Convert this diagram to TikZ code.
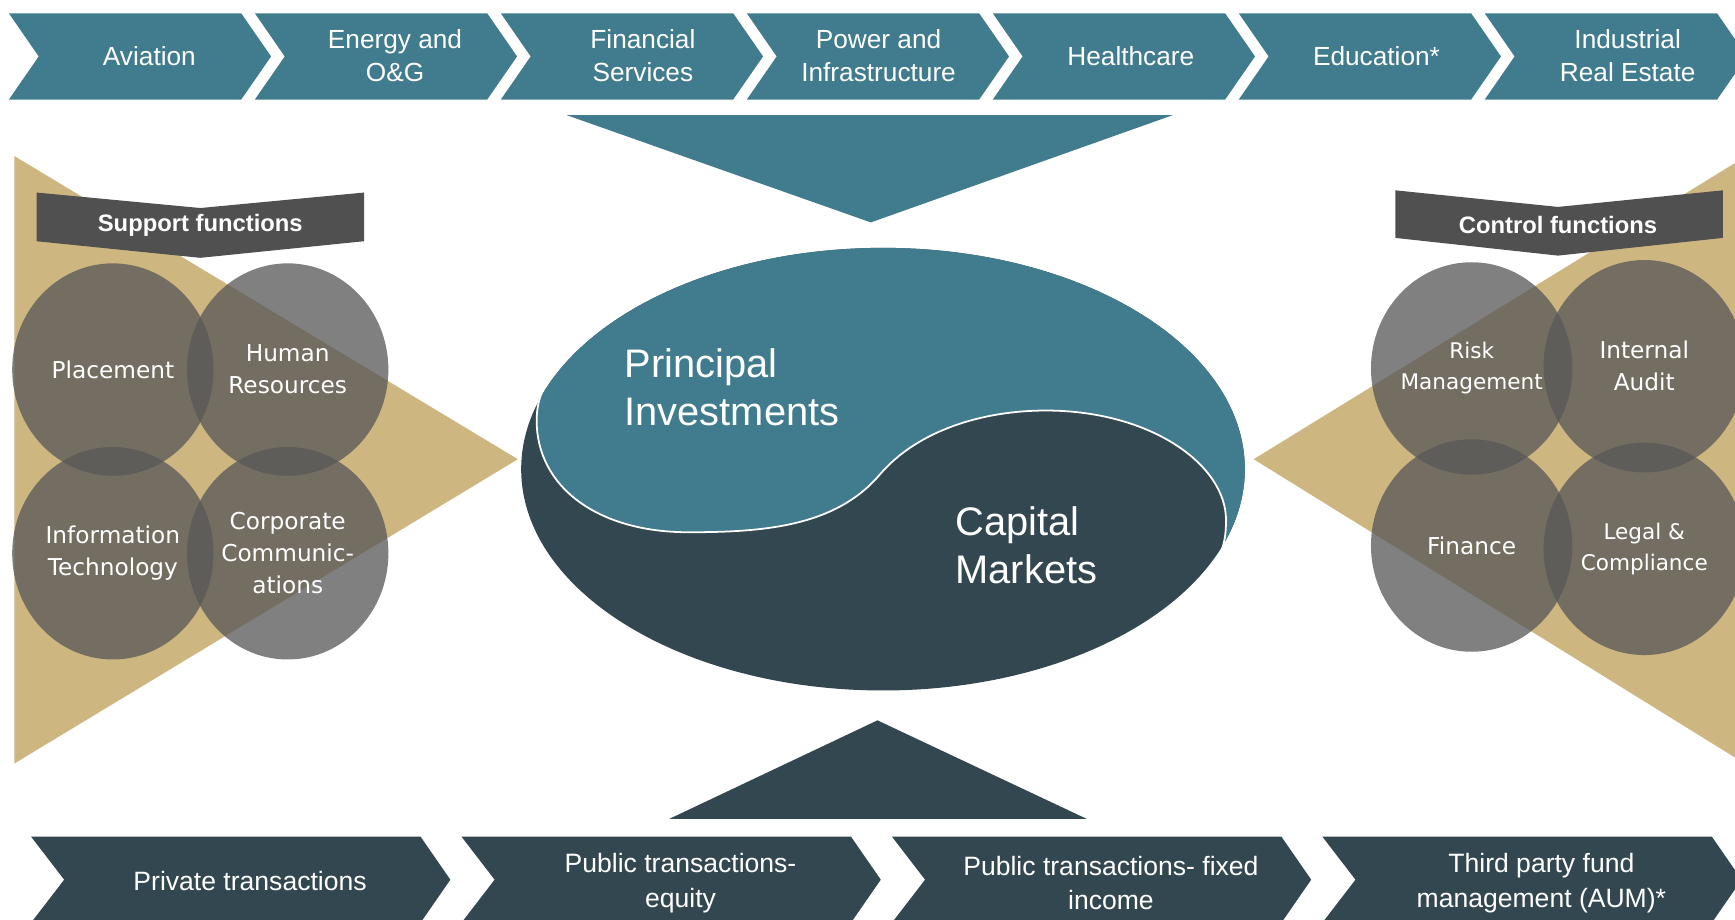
\documentclass[tikz,border=0pt]{standalone}
\usepackage{fontspec}
\setmainfont{Liberation Sans}
\newfontfamily\dvs{DejaVu Sans}
\usetikzlibrary{shapes.geometric}
\definecolor{teal1}{RGB}{65,124,142}
\definecolor{slate}{RGB}{51,71,80}
\definecolor{tan1}{RGB}{205,182,128}
\definecolor{bangrey}{RGB}{80,80,80}
\definecolor{circgrey}{RGB}{88,88,88}
\begin{document}
\begin{tikzpicture}[x=1pt,y=-1pt,
  toptext/.style={text=white, align=center, font=\fontsize{23.7}{30}\selectfont},
  bottext/.style={text=white, align=center, font=\fontsize{24}{31}\selectfont},
  circ/.style={ellipse, minimum width=182, minimum height=192, inner sep=0pt, fill=circgrey, fill opacity=.76, text opacity=1, text=white, align=center, font=\dvs\fontsize{21}{29}\selectfont},
  circsmall/.style={font=\dvs\fontsize{19.5}{28}\selectfont},
  bantext/.style={text=white, font=\bfseries\fontsize{21.5}{24}\selectfont},
  bigtext/.style={text=white, align=left, anchor=west, font=\fontsize{36}{43}\selectfont},
  topchevron/.style={fill=teal1},
  botchevron/.style={fill=slate},
  banner/.style={fill=bangrey},
  wedge/.style={fill=tan1}
]
\useasboundingbox (0,0) rectangle (1568,831);
\clip (0,0) rectangle (1568,831);

% tan wedges
\fill[wedge] (13,141) -- (468,415) -- (13,690) -- cycle;
\fill[wedge] (1133,415) -- (1575,143) -- (1575,689) -- cycle;

% banners
\fill[banner] (33,174) -- (181,188) -- (329,174) -- (329,218) -- (181,233) -- (33,218) -- cycle;
\node[bantext] (sup) at (181,204) {Support functions};
\fill[banner] (1261,172) -- (1408,187) -- (1557,172) -- (1557,215) -- (1408,231) -- (1261,215) -- cycle;
\node[bantext] (con) at (1408,203) {Control functions};

% left circles
\node[circ] (pl) at (102,334) {Placement};
\node[circ] (hr) at (260,334) {Human\\Resources};
\node[circ] (it) at (102,500) {Information\\Technology};
\node[circ] (cc) at (260,500) {Corporate\\Communic-\\ations};
% right circles
\node[circ,circsmall] (rm) at (1330,333) {Risk\\Management};
\node[circ] (ia) at (1486,331) {Internal\\Audit};
\node[circ] (fi) at (1330,493) {Finance};
\node[circ,circsmall] (lc) at (1486,496) {Legal \&\\Compliance};

% top chevrons
\foreach \k in {0,...,6}{
  \fill[topchevron] ({8+222.3*\k},12) -- ++(210,0) -- ++(27,39) -- ++(-27,39) -- ++(-210,0) -- ++(27,-39) -- cycle;
}
\node[toptext] (c1) at (135,51) {Aviation};
\node[toptext] (c2) at (357,50) {Energy and\\O\&G};
\node[toptext] (c3) at (581,50) {Financial\\Services};
\node[toptext] (c4) at (794,50) {Power and\\Infrastructure};
\node[toptext] (c5) at (1022,51) {Healthcare};
\node[toptext] (c6) at (1244,51) {Education*};
\node[toptext] (c7) at (1471,50) {Industrial\\Real Estate};

% bottom chevrons
\foreach \k in {0,...,3}{
  \fill[botchevron] ({28+389*\k},756) -- ++(352,0) -- ++(27,39) -- ++(-27,39) -- ++(-352,0) -- ++(30,-39) -- cycle;
}
\node[bottext] (b1) at (226,796) {Private transactions};
\node[bottext] (b2) at (615,798) {Public transactions-\\equity};
\node[bottext] (b3) at (1004,798) {Public transactions- fixed\\income};
\node[bottext] (b4) at (1393,798) {Third party fund\\management (AUM)*};

% triangles
\fill[teal1] (512,104) -- (1060,104) -- (787,201) -- cycle;
\fill[slate] (605,740) -- (982,740) -- (793,651) -- cycle;

% central disk
\fill[slate] (798,424) ellipse [x radius=327, y radius=200];
\begin{scope}
\clip (798,424) ellipse [x radius=327, y radius=200];
\fill[teal1] (400,100) -- (400,346) -- (494,346)
  .. controls (488,356) and (485,367) .. (485,380)
  .. controls (485,440) and (540,481) .. (622,481)
  .. controls (690,481) and (755,476) .. (795,429)
  .. controls (830,388) and (890,371) .. (945,371)
  .. controls (1040,371) and (1108,420) .. (1108,470)
  .. controls (1108,485) and (1106,492) .. (1103,500)
  -- (1200,500) -- (1200,100) -- cycle;
\end{scope}
\draw[white, line width=1.6pt] (494,346)
  .. controls (488,356) and (485,367) .. (485,380)
  .. controls (485,440) and (540,481) .. (622,481)
  .. controls (690,481) and (755,476) .. (795,429)
  .. controls (830,388) and (890,371) .. (945,371)
  .. controls (1040,371) and (1108,420) .. (1108,470)
  .. controls (1108,485) and (1106,492) .. (1103,500);
\node[bigtext] (pi) at (561,350) {Principal\\Investments};
\node[bigtext] (cm) at (860,493) {Capital\\Markets};
\end{tikzpicture}
\end{document}
